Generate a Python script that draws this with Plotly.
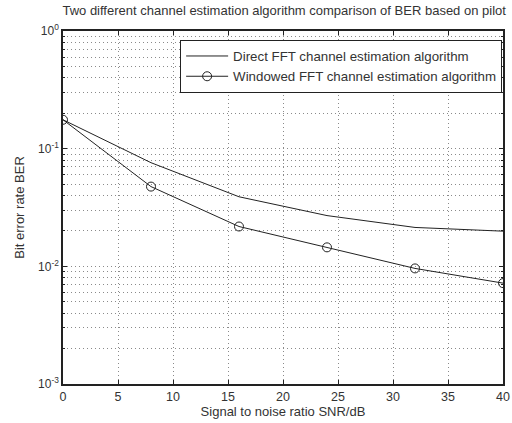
import plotly.graph_objects as go

snr = [0, 8, 16, 24, 32, 40]
ber_direct = [0.176, 0.076, 0.039, 0.027, 0.0214, 0.0199]
ber_windowed = [0.176, 0.0476, 0.0218, 0.0145, 0.0096, 0.0072]
x_ticks = [0, 5, 10, 15, 20, 25, 30, 35, 40]
y_tickvals = [1e-3, 1e-2, 1e-1, 1]
y_ticktext = ["10<sup>-3</sup>", "10<sup>-2</sup>", "10<sup>-1</sup>", "10<sup>0</sup>"]

fig = go.Figure()
fig.add_trace(go.Scatter(x=snr, y=ber_direct, mode="lines",
                         name="Direct FFT channel estimation algorithm",
                         line=dict(color="#222222", width=1)))
fig.add_trace(go.Scatter(x=snr, y=ber_windowed, mode="lines+markers",
                         name="Windowed FFT channel estimation algorithm",
                         line=dict(color="#222222", width=1),
                         marker=dict(symbol="circle-open", size=9, color="#222222", line=dict(width=1))))

font = "Liberation Sans, Arial, sans-serif"
grid = dict(showgrid=True, gridcolor="#8a8a8a", griddash="1px,3px", gridwidth=1)
fig.update_layout(
    width=512, height=423,
    margin=dict(l=63, r=9, t=31, b=39, autoexpand=False),
    paper_bgcolor="white", plot_bgcolor="white",
    font=dict(family=font, size=12, color="#333333"),
    title=dict(text="Two different channel estimation algorithm comparison of BER based on pilot",
               x=0.555, xanchor="center", y=0.985, yanchor="top",
               font=dict(size=13, color="#333333")),
    legend=dict(x=0.998, xanchor="right", y=0.975, yanchor="top",
                bgcolor="white", bordercolor="#222222", borderwidth=1,
                font=dict(size=13.3, color="#333333"), itemwidth=42,
                tracegroupgap=0),
    showlegend=True,
)
fig.update_xaxes(range=[0, 40], tickvals=x_ticks, showline=True, linecolor="#222222", linewidth=1.5,
                 mirror="ticks", ticks="inside", ticklen=4, tickcolor="#222222", automargin=False,
                 zeroline=False, **grid,
                 title=dict(text="Signal to noise ratio SNR/dB", font=dict(size=13), standoff=2),
                 tickfont=dict(size=12.5))
fig.update_yaxes(type="log", range=[-3, 0], tickvals=y_tickvals, ticktext=y_ticktext,
                 showline=True, linecolor="#222222", linewidth=1.5, mirror="ticks",
                 ticks="inside", ticklen=4, tickcolor="#222222", automargin=False,
                 zeroline=False, **grid,
                 minor=dict(dtick="D1", showgrid=True, gridcolor="#8a8a8a", griddash="1px,3px",
                            ticks="inside", ticklen=2, tickcolor="#222222"),
                 title=dict(text="Bit error rate BER", font=dict(size=13), standoff=10),
                 tickfont=dict(size=12))

fig.write_html("out.html")
